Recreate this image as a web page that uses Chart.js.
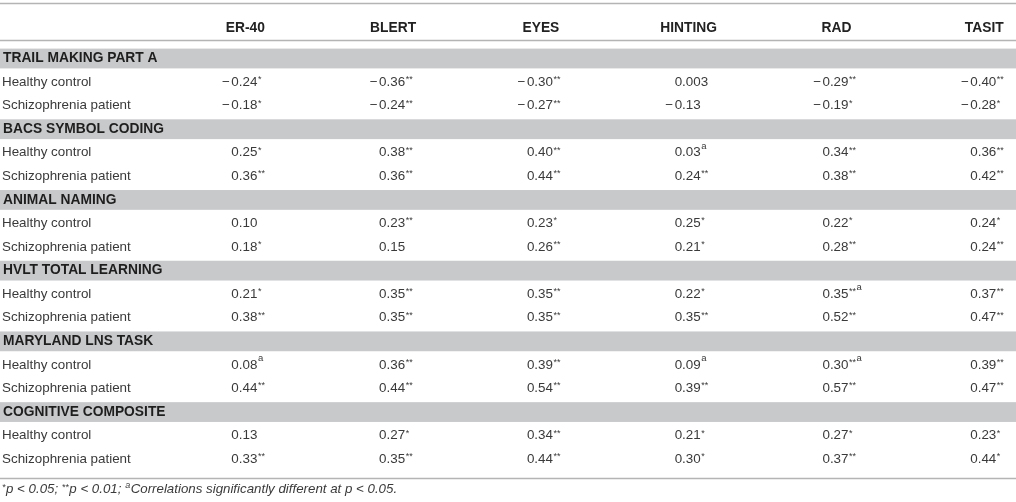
<!DOCTYPE html>
<html><head><meta charset="utf-8">
<script src="https://cdn.jsdelivr.net/npm/chart.js@4/dist/chart.umd.min.js"></script>
<style>html,body{margin:0;padding:0;background:#fff}#wrap{width:1016px;height:502px;position:relative}</style>
</head><body><div id="wrap"><canvas id="c"></canvas></div>
<script>
const columns = ['ER-40', 'BLERT', 'EYES', 'HINTING', 'RAD', 'TASIT'];
const measures = ['TRAIL MAKING PART A', 'BACS SYMBOL CODING', 'ANIMAL NAMING', 'HVLT TOTAL LEARNING', 'MARYLAND LNS TASK', 'COGNITIVE COMPOSITE'];
const groups = ['Healthy control', 'Schizophrenia patient'];

const healthyValues = [
  [-0.24, -0.36, -0.30, 0.003, -0.29, -0.40],
  [0.25, 0.38, 0.40, 0.03, 0.34, 0.36],
  [0.10, 0.23, 0.23, 0.25, 0.22, 0.24],
  [0.21, 0.35, 0.35, 0.22, 0.35, 0.37],
  [0.08, 0.36, 0.39, 0.09, 0.30, 0.39],
  [0.13, 0.27, 0.34, 0.21, 0.27, 0.23]
];
const healthyMarks = [
  ['*', '**', '**', '', '**', '**'],
  ['*', '**', '**', 'a', '**', '**'],
  ['', '**', '*', '*', '*', '*'],
  ['*', '**', '**', '*', '**a', '**'],
  ['a', '**', '**', 'a', '**a', '**'],
  ['', '*', '**', '*', '*', '*']
];
const patientValues = [
  [-0.18, -0.24, -0.27, -0.13, -0.19, -0.28],
  [0.36, 0.36, 0.44, 0.24, 0.38, 0.42],
  [0.18, 0.15, 0.26, 0.21, 0.28, 0.24],
  [0.38, 0.35, 0.35, 0.35, 0.52, 0.47],
  [0.44, 0.44, 0.54, 0.39, 0.57, 0.47],
  [0.33, 0.35, 0.44, 0.30, 0.37, 0.44]
];
const patientMarks = [
  ['*', '**', '**', '', '*', '*'],
  ['**', '**', '**', '**', '**', '**'],
  ['*', '', '**', '*', '**', '**'],
  ['**', '**', '**', '**', '**', '**'],
  ['**', '**', '**', '**', '**', '**'],
  ['**', '**', '**', '*', '**', '*']
];
const footnoteParts = [
  ['*', 'sup'], ['p', ''], [' < 0.05; ', ''], ['**', 'sup'], ['p', ''], [' < 0.01; ', ''],
  ['a', 'sup'], ['Correlations significantly different at ', ''], ['p', ''], [' < 0.05.', '']
];

// build cell points: row index = measure*3 + 1 (healthy) / +2 (patient)
const cells = [];
measures.forEach((m, mi) => {
  [healthyValues, patientValues].forEach((vals, gi) => {
    const marks = gi === 0 ? healthyMarks : patientMarks;
    vals[mi].forEach((v, ci) => {
      cells.push({ x: ci + 1, y: mi * 3 + 1 + gi, v: v, mark: marks[mi][ci] });
    });
  });
});

const FONT = '"Liberation Sans", Arial, Helvetica, sans-serif';
const TEXT = '#3a3a3a';

function fmt(v) {
  const a = Math.abs(v);
  return a < 0.01 && a > 0 ? a.toFixed(3) : a.toFixed(2);
}

function drawMarks(ctx, mark, x, y) {
  if (!mark) return;
  const stars = mark.replace(/a/g, '');
  const hasA = mark.indexOf('a') >= 0;
  ctx.textAlign = 'left';
  ctx.textBaseline = 'alphabetic';
  if (stars) {
    ctx.font = '9px ' + FONT;
    ctx.fillText(stars, x + 0.5, y + 6);
    x += ctx.measureText(stars).width + 0.5;
  }
  if (hasA) {
    ctx.font = '9.5px ' + FONT;
    ctx.fillText('a', x + 0.5, y + 2);
  }
}

const tablePlugin = {
  id: 'tablePlugin',
  beforeDatasetsDraw(chart) {
    const { ctx, chartArea, scales } = chart;
    const ys = scales.y, xs = scales.x;
    ctx.save();
    // grey section bands
    ctx.fillStyle = '#c8c9cb';
    measures.forEach((m, mi) => {
      const top = ys.getPixelForValue(mi * 3 - 0.42);
      const bot = ys.getPixelForValue(mi * 3 + 0.42);
      ctx.fillRect(chartArea.left, top, chartArea.right - chartArea.left, bot - top);
    });
    // rules
    ctx.strokeStyle = '#b4b4b4';
    ctx.lineWidth = 1.5;
    [-2.37, -0.78, 17.8].forEach(r => {
      const y = Math.round(ys.getPixelForValue(r)) + 0.5;
      ctx.beginPath(); ctx.moveTo(chartArea.left, y); ctx.lineTo(chartArea.right, y); ctx.stroke();
    });
    // header
    ctx.fillStyle = '#222';
    ctx.font = 'bold 13.8px ' + FONT;
    ctx.textAlign = 'center';
    ctx.textBaseline = 'middle';
    const hy = ys.getPixelForValue(-1.3);
    columns.forEach((c, ci) => ctx.fillText(c, xs.getPixelForValue(ci + 1), hy));
    // row labels
    ctx.textAlign = 'left';
    measures.forEach((m, mi) => {
      ctx.font = 'bold 13.8px ' + FONT;
      ctx.fillStyle = '#1e1e1e';
      ctx.fillText(m, chartArea.left + 3, ys.getPixelForValue(mi * 3));
      ctx.font = '13.4px ' + FONT;
      ctx.fillStyle = TEXT;
      groups.forEach((g, gi) => ctx.fillText(g, chartArea.left + 2, ys.getPixelForValue(mi * 3 + 1 + gi)));
    });
    // footnote
    let fx = chartArea.left + 2;
    const fy = ys.getPixelForValue(18.27);
    ctx.fillStyle = TEXT;
    ctx.textBaseline = 'middle';
    footnoteParts.forEach(([t, k]) => {
      if (k === 'sup') {
        ctx.font = 'italic 9px ' + FONT;
        ctx.fillText(t, fx, fy - (t === 'a' ? 4 : 2));
      } else {
        ctx.font = 'italic 13.3px ' + FONT;
        ctx.fillText(t, fx, fy);
      }
      fx += ctx.measureText(t).width + (k === 'sup' ? 0.5 : 0);
    });
    ctx.restore();
  },
  afterDatasetsDraw(chart) {
    const { ctx } = chart;
    const meta = chart.getDatasetMeta(0);
    ctx.save();
    meta.data.forEach((el, i) => {
      const cell = chart.data.datasets[0].data[i];
      const ax = el.x - 14;
      const y = el.y;
      ctx.fillStyle = TEXT;
      ctx.font = '13.4px ' + FONT;
      ctx.textBaseline = 'middle';
      if (cell.v < 0) {
        ctx.textAlign = 'right';
        ctx.fillText('\u2212', ax - 1.5, y);
      }
      ctx.textAlign = 'left';
      const s = fmt(cell.v);
      ctx.fillText(s, ax, y);
      const w = ctx.measureText(s).width;
      drawMarks(ctx, cell.mark, ax + w, y - 6);
    });
    ctx.restore();
  }
};

new Chart(document.getElementById('c'), {
  type: 'scatter',
  data: { datasets: [{ data: cells, pointRadius: 0, pointHoverRadius: 0, backgroundColor: 'rgba(0,0,0,0)' }] },
  options: {
    responsive: true,
    maintainAspectRatio: false,
    animation: false,
    events: [],
    layout: { padding: 0 },
    plugins: { legend: { display: false }, tooltip: { enabled: false }, title: { display: false } },
    scales: {
      x: { type: 'linear', min: -0.66, max: 6.215, display: false },
      y: { type: 'linear', reverse: true, min: -2.482, max: 18.816, display: false }
    }
  },
  plugins: [tablePlugin]
});
</script>
</body></html>
